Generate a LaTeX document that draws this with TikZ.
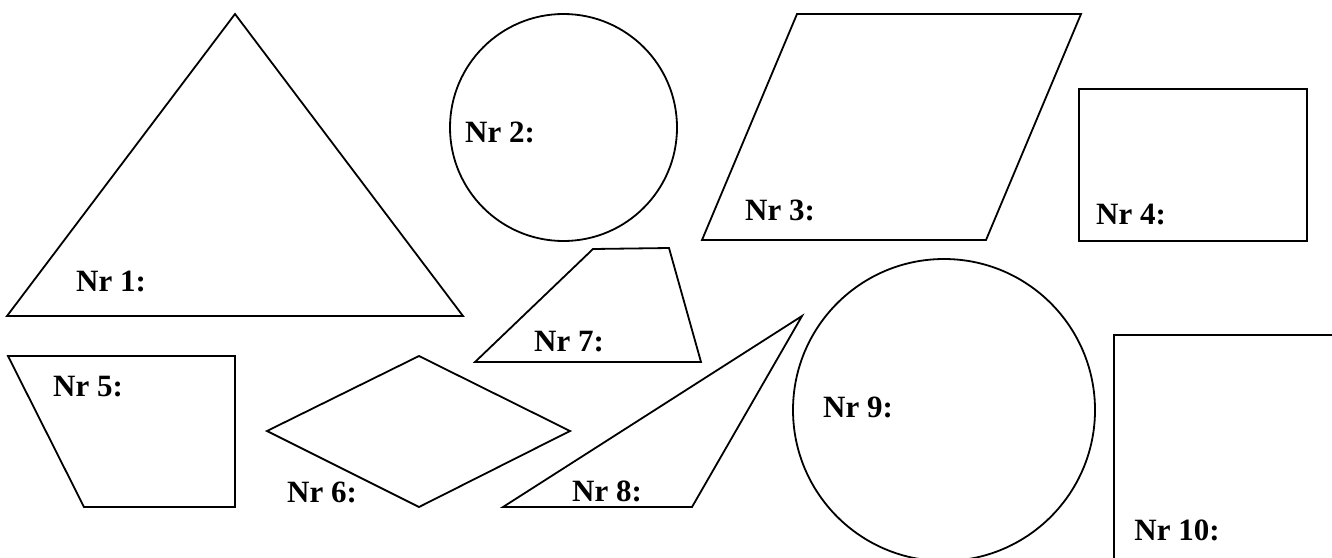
\documentclass[tikz,border=0pt]{standalone}
\usepackage{fontspec}
\setmainfont{Liberation Serif}
\newfontfamily\lblfont{Liberation Serif}[BoldFont={* Bold}]
\begin{document}
\begin{tikzpicture}[x=1pt,y=-1pt,
  shapeline/.style={draw=black,line width=1.8pt,line join=miter},
  lbl/.style={inner sep=0pt,font=\lblfont\bfseries\fontsize{31}{31}\selectfont}]
\useasboundingbox (0,0) rectangle (1332,557);
\clip (0,0) rectangle (1332,557);
\fill[white] (0,0) rectangle (1332,557);
% shapes
\draw[shapeline] (235,14) -- (463,316) -- (7,316) -- cycle;
\draw[shapeline] (563.5,127.5) circle[radius=113.5];
\draw[shapeline] (797,14) -- (1081,14) -- (986,240) -- (702,240) -- cycle;
\draw[shapeline] (1079,89) rectangle (1307,241);
\draw[shapeline] (8,356) -- (235,356) -- (235,507) -- (84,507) -- cycle;
\draw[shapeline] (267,431) -- (419,356) -- (570,431) -- (419,507) -- cycle;
\draw[shapeline] (593,249) -- (669,248) -- (701,362) -- (475,362) -- cycle;
\draw[shapeline] (503,507) -- (692,507) -- (802,316) -- cycle;
\draw[shapeline] (944,410) circle[radius=151];
\draw[shapeline] (1345,335) -- (1114,335) -- (1114,570);
% labels
\node[lbl] (n1) at (111,281) {Nr 1:};
\node[lbl] (n2) at (500,132) {Nr 2:};
\node[lbl] (n3) at (780,210) {Nr 3:};
\node[lbl] (n4) at (1131,215) {Nr 4:};
\node[lbl] (n5) at (88,387) {Nr 5:};
\node[lbl] (n6) at (322,492) {Nr 6:};
\node[lbl] (n7) at (569,342) {Nr 7:};
\node[lbl] (n8) at (607,491) {Nr 8:};
\node[lbl] (n9) at (858,407) {Nr 9:};
\node[lbl] (n10) at (1177,530) {Nr 10:};
\end{tikzpicture}
\end{document}
